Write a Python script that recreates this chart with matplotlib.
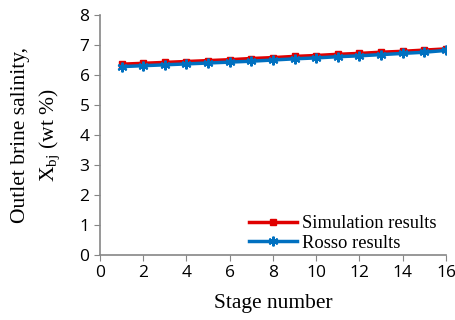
import matplotlib.pyplot as plt
import numpy as np

stages = list(range(1, 17))
sim = [6.36, 6.39, 6.42, 6.45, 6.48, 6.51, 6.55, 6.58, 6.62, 6.65, 6.69, 6.72, 6.76, 6.79, 6.83, 6.87]
rosso = [6.28, 6.31, 6.34, 6.37, 6.40, 6.43, 6.46, 6.50, 6.54, 6.57, 6.61, 6.64, 6.68, 6.72, 6.76, 6.82]

fig = plt.figure(figsize=(4.56, 3.2), dpi=100)
ax = fig.add_axes([100/456, 1-255/320, 346/456, 240/320])

ax.plot(stages, sim, color='#e00000', lw=2.5, marker='s', ms=5, label='Simulation results')
ax.plot(stages, rosso, color='#0070c0', lw=2.5, marker=(6, 2, 0), ms=7, mew=1.5,
        label='Rosso results')

ax.set_xlim(0, 16)
ax.set_ylim(0, 8)
ax.set_xticks(range(0, 17, 2))
ax.set_yticks(range(0, 9))
for s in ['top', 'right']:
    ax.spines[s].set_visible(False)
for s in ['left', 'bottom']:
    ax.spines[s].set_color('#868686')
    ax.spines[s].set_linewidth(1.2)
ax.tick_params(colors='#868686', length=4, labelcolor='black', labelsize=12.5)
for lab in ax.get_xticklabels() + ax.get_yticklabels():
    lab.set_family('Open Sans')

ax.set_xlabel('Stage number', family='Liberation Serif', fontsize=15.5, labelpad=9)
ax.set_ylabel('Outlet brine salinity,\nX$_{\\mathregular{bj}}$ (wt %)', family='Liberation Serif',
              fontsize=15.5, linespacing=1.45, labelpad=12)

ax.legend(loc='lower right', bbox_to_anchor=(1.0, -0.025), frameon=False,
          prop={'family': 'Liberation Serif', 'size': 13.3},
          handlelength=2.6, borderaxespad=0.1, labelspacing=0.15, handletextpad=0.3)

fig.savefig('out.png')
